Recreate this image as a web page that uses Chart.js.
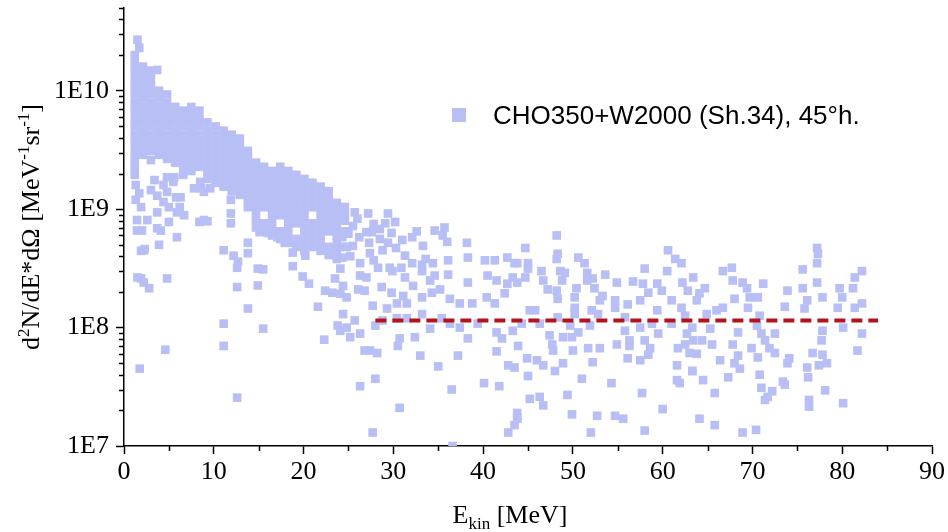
<!DOCTYPE html>
<html>
<head>
<meta charset="utf-8">
<script src="https://cdn.jsdelivr.net/npm/chart.js@4/dist/chart.umd.min.js"></script>
<style>
  html, body { margin: 0; padding: 0; background: #ffffff; }
  #wrap { width: 948px; height: 532px; }
  canvas { display: block; }
</style>
</head>
<body>
<div id="wrap"><canvas id="chart" width="948" height="532"></canvas></div>
<script>
// ---- measured spectrum: d2N/dE dOmega versus kinetic energy ----
const seriesLabel = 'CHO350+W2000 (Sh.34), 45°h.';

// dense low-energy part, grouped by energy column [E (MeV), [yields]]
const coreColumns = [
  [1.2,  [2.0e10, 1.72e10, 1.48e10, 1.26e10, 1.08e10, 9.3e9, 7.9e9, 6.8e9, 5.8e9, 5.0e9, 4.25e9, 3.65e9, 3.1e9, 2.66e9, 2.28e9, 1.95e9]],
  [2.1,  [1.6e10, 1.37e10, 1.17e10, 1.0e10, 8.6e9, 7.3e9, 6.3e9, 5.4e9, 4.6e9, 3.95e9, 3.37e9, 2.88e9]],
  [3.0,  [1.48e10, 1.26e10, 1.08e10, 9.3e9, 7.9e9, 6.8e9, 5.8e9, 5.0e9, 4.25e9, 3.65e9, 3.1e9]],
  [3.9,  [1.0e10, 8.6e9, 7.3e9, 6.3e9, 5.4e9, 4.6e9, 3.95e9, 3.37e9, 2.88e9]],
  [4.8,  [9.3e9, 7.9e9, 6.8e9, 5.8e9, 5.0e9, 4.25e9, 3.65e9, 3.1e9, 2.66e9]],
  [5.7,  [7.3e9, 6.3e9, 5.4e9, 4.6e9, 3.95e9, 3.37e9, 2.88e9, 2.47e9]],
  [6.6,  [6.8e9, 5.8e9, 5.0e9, 4.25e9, 3.65e9, 3.1e9, 2.66e9, 2.28e9, 1.95e9]],
  [7.5,  [7.3e9, 6.3e9, 5.4e9, 4.6e9, 3.95e9, 3.37e9, 2.88e9, 2.47e9, 2.1e9]],
  [8.4,  [6.8e9, 5.8e9, 5.0e9, 4.25e9, 3.65e9, 3.1e9, 2.66e9, 2.28e9]],
  [9.3,  [5.4e9, 4.6e9, 3.95e9, 3.37e9, 2.88e9, 2.47e9, 2.1e9, 1.8e9]],
  [10.2, [5.0e9, 4.25e9, 3.65e9, 3.1e9, 2.66e9, 2.28e9, 1.95e9, 1.67e9]],
  [11.1, [4.6e9, 3.95e9, 3.37e9, 2.88e9, 2.47e9, 2.1e9, 1.8e9, 1.55e9]],
  [12.0, [4.25e9, 3.65e9, 3.1e9, 2.66e9, 2.28e9, 1.95e9, 1.67e9, 1.42e9]],
  [12.9, [3.95e9, 3.37e9, 2.88e9, 2.47e9, 2.1e9, 1.8e9, 1.55e9, 1.32e9]],
  [13.8, [3.1e9, 2.66e9, 2.28e9, 1.95e9, 1.67e9, 1.42e9, 1.22e9, 1.04e9]],
  [14.7, [2.47e9, 2.1e9, 1.8e9, 1.55e9, 1.32e9, 1.13e9, 9.6e8, 8.2e8, 7.0e8]],
  [15.6, [2.28e9, 1.95e9, 1.67e9, 1.42e9, 1.22e9, 1.04e9, 7.6e8, 6.5e8]],
  [16.5, [2.1e9, 1.8e9, 1.55e9, 1.32e9, 1.13e9, 9.6e8, 8.2e8, 7.0e8, 6.0e8]],
  [17.4, [2.28e9, 1.95e9, 1.67e9, 1.42e9, 1.22e9, 1.04e9, 8.9e8, 6.5e8, 5.6e8]],
  [18.3, [2.1e9, 1.8e9, 1.55e9, 1.32e9, 1.13e9, 9.6e8, 8.2e8, 7.0e8, 6.0e8, 5.2e8]],
  [19.2, [1.95e9, 1.67e9, 1.42e9, 1.22e9, 1.04e9, 8.9e8, 7.6e8, 5.6e8, 4.8e8]],
  [20.1, [1.8e9, 1.55e9, 1.32e9, 1.13e9, 9.6e8, 8.2e8, 7.0e8, 6.0e8, 5.2e8, 4.45e8]],
  [21.0, [1.67e9, 1.42e9, 1.22e9, 1.04e9, 7.6e8, 6.5e8, 5.6e8, 4.8e8]],
  [21.9, [1.55e9, 1.32e9, 1.13e9, 9.6e8, 8.2e8, 7.0e8, 6.0e8, 5.2e8, 4.45e8]],
  [22.8, [1.42e9, 1.22e9, 1.04e9, 8.9e8, 7.6e8, 6.5e8, 4.8e8, 4.1e8]],
  [23.7, [1.13e9, 9.6e8, 8.2e8, 7.0e8, 6.0e8, 5.2e8, 4.45e8, 3.8e8]],
  [24.6, [1.04e9, 8.9e8, 6.5e8, 4.8e8]]
];

// individual points, [E (MeV), yield]
const lowEnergyPoints = [
  [1.5,2.7e10],[1.7,2.3e10],[3.7,1.5e10],
  [1.3,1.6e9],[1.3,1.2e9],[1.7,1.36e9],[1.9,1.04e9],[1.45,8.1e8],[1.45,6.6e8],[2.0,6.6e8],
  [2.6,8.1e8],[2.2,4.5e8],[1.9,4.45e8],[2.3,4.6e8],
  [3.0,2.6e9],[3.4,1.76e9],[3.0,1.45e9],[3.7,1.3e9],[4.4,1.6e9],[4.8,1.86e9],[5.5,1.7e9],
  [5.6,1.86e9],[4.8,1.4e9],[4.4,1.15e9],[5.0,1.04e9],[5.8,1.26e9],[6.3,1.26e9],
  [6.2,1.04e9],[3.7,9.4e8],[5.9,9.4e8],[6.7,8.9e8],[5.0,7.8e8],[3.7,6.9e8],[4.1,6.6e8],[5.9,5.8e8],
  [3.9,5.0e8],[7.8,1.5e9],[8.6,1.5e9],[8.5,1.7e9],[8.9,1.4e9],[9.6,1.5e9],[8.4,7.8e8],
  [8.9,8.1e8],[9.3,7.9e8],[11.1,4.5e8],[11.9,1.2e9],[11.9,9.2e8],[11.9,7.6e8],
  [1.5,2.65e8],[1.9,2.6e8],[2.2,2.4e8],[2.8,2.15e8],[4.8,2.6e8],[11.1,1.08e8],[11.1,7.0e7],
  [4.6,6.5e7],[1.75,4.5e7],[12.2,4.05e8],[12.6,2.2e8],[12.6,2.56e7],[12.6,3.2e8],[13.8,1.45e8],
  [14.9,2.27e8],[14.9,3.15e8],[15.5,3.1e8],[15.5,9.8e7],[18.8,3.3e8],[19.9,2.7e8],[20.6,2.35e8],
  [21.6,1.5e8],[12.7,3.6e8],[13.8,5.2e8],[13.8,4.25e8],[22.4,2.05e8],[23.2,1.97e8],[24.1,1.93e8],
  [22.3,7.9e7],[23.8,1.04e8],[24.1,9.4e7],[24.1,3.15e8],[23.5,2.6e8],[24.4,1.3e8],[20.2,4.05e8],
  [18.8,4.3e8],[17.9,5.2e8],[17.1,5.8e8],[16.0,6.3e8],[15.1,6.4e8]
];

const midEnergyPoints = [
  [24.4,1.04e9],[25.7,9.4e8],[27.2,9.2e8],[29.4,9.2e8],[25.5,7.2e8],[27.0,6.4e8],[27.6,6.4e8],
  [29.1,7.6e8],[30.2,7.8e8],[24.3,5.8e8],[24.8,4.8e8],[25.5,4.9e8],[28.5,5.6e8],[29.4,5.2e8],
  [31.0,5.5e8],[32.1,5.8e8],[33.3,4.9e8],[34.6,6.6e8],[35.7,7.0e8],[35.5,6.0e8],[36.0,5.3e8],
  [38.2,5.2e8],[24.3,3.9e8],[25.2,4.0e8],[27.4,4.25e8],[28.8,4.5e8],[31.3,4.05e8],[32.1,3.5e8],
  [33.2,3.4e8],[34.4,3.5e8],[36.1,3.7e8],[38.3,3.9e8],[40.2,3.7e8],[41.3,3.7e8],[42.7,3.9e8],
  [43.5,3.5e8],[26.3,2.75e8],[27.0,2.65e8],[28.3,3.2e8],[29.6,3.2e8],[31.3,2.65e8],[33.2,3.0e8],
  [34.1,2.5e8],[34.6,2.75e8],[36.1,2.8e8],[38.3,2.4e8],[40.5,2.75e8],[41.5,2.5e8],[42.7,2.35e8],
  [43.3,2.65e8],[24.4,2.25e8],[24.8,1.8e8],[26.1,2.1e8],[26.8,2.05e8],[28.7,2.2e8],[29.8,1.97e8],
  [31.1,1.85e8],[32.2,2.25e8],[33.2,1.8e8],[34.3,1.97e8],[35.2,2.1e8],[36.3,1.75e8],[37.4,1.6e8],
  [38.8,1.6e8],[40.4,1.8e8],[41.3,1.6e8],[42.4,1.95e8],[27.7,1.53e8],[29.3,1.45e8],[30.4,1.6e8],
  [31.5,1.6e8],[33.2,1.3e8],[30.4,1.2e8],[25.7,1.15e8],[24.8,1.0e8],[28.0,1.04e8],[28.8,1.15e8],
  [31.5,1.2e8],[34.1,9.8e7],[35.4,1.2e8],[36.3,1.08e8],[37.4,1.0e8],[38.3,8.1e7],[39.4,1.08e8],
  [41.5,9.1e7],[42.1,8.1e7],[43.3,9.4e7],[25.2,8.3e7],[26.3,8.9e7],[26.8,6.4e7],[27.4,6.4e7],
  [28.2,6.1e7],[30.7,8.1e7],[30.5,7.0e7],[32.4,8.3e7],[33.0,5.8e7],[35.0,4.7e7],[37.2,5.8e7],
  [41.5,6.3e7],[42.8,4.8e7],[43.5,4.6e7],[28.0,3.7e7],[26.3,3.2e7],[36.5,3.0e7],[40.1,3.4e7],
  [41.8,3.2e7],[30.7,2.1e7],[27.7,1.3e7],[36.6,1.0e7],[42.8,1.3e7],[43.8,1.75e7],[43.5,1.5e7],
  [44.7,4.7e8],[24.6,8.0e8],[26.0,8.3e8],[27.8,7.5e8],[28.5,6.8e8],[26.2,5.8e8],[25.0,6.2e8],
  [27.3,5.2e8],[29.8,6.3e8],[30.3,4.7e8],[26.3,3.5e8],[27.8,3.7e8],[29.9,3.0e8],[32.6,6.5e8],
  [33.6,3.8e8],[30.9,3.2e8]
];

const highEnergyPoints = [
  [48.2,6.0e8],[43.8,3.5e8],[45.0,3.5e8],[45.0,3.15e8],[48.3,4.2e8],[48.2,3.8e8],[50.6,3.9e8],
  [51.3,3.5e8],[46.5,3.0e8],[48.6,3.0e8],[49.1,2.9e8],[51.6,2.9e8],[53.6,2.8e8],[58.0,3.15e8],
  [60.6,4.5e8],[61.4,3.8e8],[62.1,3.5e8],[60.5,3.0e8],[46.7,2.5e8],[47.2,2.1e8],[48.2,2.05e8],
  [48.8,2.5e8],[50.4,2.15e8],[51.6,2.5e8],[52.2,2.6e8],[52.4,2.15e8],[53.3,1.85e8],[54.9,2.4e8],
  [56.7,2.45e8],[57.8,2.35e8],[58.4,1.97e8],[59.4,2.35e8],[59.9,2.05e8],[62.2,2.4e8],[62.8,2.05e8],
  [44.7,2.65e8],[43.8,2.4e8],[48.3,1.75e8],[50.2,1.8e8],[53.0,1.7e8],[54.7,1.7e8],[54.7,1.47e8],
  [56.1,1.57e8],[57.5,1.7e8],[61.0,1.7e8],[62.1,1.47e8],[50.2,1.47e8],[45.8,1.4e8],[45.2,1.4e8],
  [52.1,1.4e8],[50.2,1.3e8],[52.8,1.3e8],[48.3,1.22e8],[55.8,1.22e8],[59.4,1.4e8],[62.5,1.26e8],
  [44.3,1.08e8],[46.3,1.08e8],[49.7,1.04e8],[51.9,1.04e8],[57.5,1.0e8],[58.8,1.08e8],[61.0,1.08e8],
  [47.4,8.6e7],[48.9,8.3e7],[49.9,8.3e7],[50.6,9.1e7],[55.8,9.4e7],[59.5,8.9e7],[62.7,8.9e7],
  [43.9,7.0e7],[47.7,7.2e7],[47.8,6.4e7],[50.0,6.4e7],[51.7,6.7e7],[53.0,6.7e7],[54.9,7.2e7],
  [56.3,7.8e7],[56.3,7.0e7],[58.0,7.8e7],[58.6,6.7e7],[61.7,6.7e7],[62.5,7.2e7],[63.0,6.1e7],
  [44.9,5.5e7],[46.0,5.3e7],[46.7,4.8e7],[48.0,4.3e7],[48.9,5.0e7],[52.2,5.1e7],[56.1,5.5e7],
  [57.5,5.3e7],[58.4,5.9e7],[61.6,4.8e7],[63.3,4.3e7],[45.0,3.9e7],[51.0,3.7e7],[61.6,3.6e7],
  [61.9,3.4e7],[54.3,3.4e7],[49.4,2.7e7],[57.7,2.8e7],[45.2,2.5e7],[46.3,2.6e7],[46.7,2.2e7],
  [43.8,1.9e7],[43.8,1.7e7],[49.9,1.85e7],[52.7,1.8e7],[54.7,1.8e7],[55.6,1.7e7],[60.0,2.05e7],
  [52.0,1.3e7],[58.0,1.35e7],
  [66.7,3.0e8],[67.7,3.2e8],[67.8,2.5e8],[77.2,4.7e8],[77.3,4.2e8],[77.2,3.5e8],[75.6,3.1e8],
  [82.2,3.0e8],[81.4,2.65e8],[63.4,2.65e8],[64.7,2.15e8],[63.8,1.7e8],[64.1,1.95e8],[68.9,2.4e8],
  [69.4,2.15e8],[71.2,2.35e8],[68.0,1.75e8],[69.7,1.8e8],[70.6,1.8e8],[69.5,1.47e8],[73.9,2.05e8],
  [73.6,1.5e8],[75.6,2.15e8],[77.2,2.4e8],[77.8,1.8e8],[76.1,1.7e8],[75.8,1.45e8],[79.7,2.15e8],
  [80.0,1.8e8],[81.2,2.15e8],[79.5,1.47e8],[81.4,1.47e8],[82.2,1.6e8],[66.0,1.4e8],[66.7,1.47e8],
  [64.9,1.3e8],[70.8,1.26e8],[63.3,1.0e8],[65.3,9.8e7],[70.5,1.04e8],[68.4,9.1e7],[71.0,8.9e7],
  [72.5,8.9e7],[77.8,9.4e7],[80.1,1.0e8],[82.2,8.9e7],[63.4,7.8e7],[64.4,7.8e7],[65.5,7.2e7],
  [67.8,7.2e7],[69.9,6.7e7],[71.4,7.8e7],[71.9,6.7e7],[72.5,6.1e7],[77.7,7.8e7],[81.7,6.4e7],
  [76.7,6.1e7],[63.8,6.0e7],[68.4,5.8e7],[70.6,5.6e7],[77.8,5.9e7],[66.4,5.3e7],[68.0,5.0e7],
  [68.6,4.5e7],[73.9,5.0e7],[74.1,5.5e7],[76.1,4.6e7],[77.4,4.8e7],[78.3,5.0e7],[63.3,4.3e7],
  [67.3,3.8e7],[64.5,3.6e7],[70.8,4.0e7],[73.4,3.5e7],[73.6,3.3e7],[76.2,3.8e7],[71.0,3.1e7],
  [65.8,2.8e7],[72.2,2.9e7],[71.7,2.6e7],[71.4,2.45e7],[78.1,2.95e7],[76.3,2.45e7],[76.3,2.15e7],
  [80.1,2.3e7],[64.1,1.7e7],[65.8,1.5e7],[68.9,1.3e7],[70.4,1.37e7]
];

// reference level drawn as a dashed line
const levelEnergy = [28, 84];
const levelYield = [1.15e8, 1.15e8];

// axes
const xMin = 0, xMax = 90;
const xTickValues = [0, 10, 20, 30, 40, 50, 60, 70, 80, 90];
const xTickLabels = ['0', '10', '20', '30', '40', '50', '60', '70', '80', '90'];
const xMinorTicks = [5, 15, 25, 35, 45, 55, 65, 75, 85];
const yMin = 1e7, yMax = 5e10;
const yTickValues = [1e7, 1e8, 1e9, 1e10];
const yTickLabels = ['1E7', '1E8', '1E9', '1E10'];

const POINT_COLOR = '#b8bff4';
const LINE_COLOR = '#b3141c';
const SERIF = '"Liberation Serif", "Times New Roman", serif';
const SANS = '"Liberation Sans", Arial, sans-serif';

const scatterData = [
  ...coreColumns.flatMap(([e, ys]) => ys.map(v => ({ x: e, y: v }))),
  ...lowEnergyPoints.map(([e, v]) => ({ x: e, y: v })),
  ...midEnergyPoints.map(([e, v]) => ({ x: e, y: v })),
  ...highEnergyPoints.map(([e, v]) => ({ x: e, y: v }))
];
const levelData = levelEnergy.map((e, i) => ({ x: e, y: levelYield[i] }));

// text with super/subscripts, drawn centred on (0,0) of the current transform
function drawRich(ctx, parts, size) {
  const small = Math.round(size * 0.65);
  const fontFor = p => `${p.sup || p.sub ? small : size}px ${SERIF}`;
  let total = 0;
  parts.forEach(p => { ctx.font = fontFor(p); total += ctx.measureText(p.t).width; });
  let cx = -total / 2;
  parts.forEach(p => {
    ctx.font = fontFor(p);
    const dy = p.sup ? -size * 0.38 : (p.sub ? size * 0.22 : 0);
    ctx.fillText(p.t, cx, dy);
    cx += ctx.measureText(p.t).width;
  });
}

const decorations = {
  id: 'decorations',
  afterDraw(chart) {
    const { ctx, scales: { x, y } } = chart;
    ctx.save();
    ctx.strokeStyle = '#000';
    ctx.lineWidth = 1.5;
    // minor ticks on the energy axis
    ctx.beginPath();
    xMinorTicks.forEach(v => {
      const px = Math.round(x.getPixelForValue(v)) + 0.5;
      ctx.moveTo(px, y.bottom);
      ctx.lineTo(px, y.bottom + 5);
    });
    // minor ticks on the logarithmic axis
    for (let dec = yMin; dec < yMax; dec *= 10) {
      for (let m = 2; m <= 9; m++) {
        const v = m * dec;
        if (v > yMax * 1.0001) break;
        const py = Math.round(y.getPixelForValue(v)) + 0.5;
        ctx.moveTo(x.left, py);
        ctx.lineTo(x.left - 5, py);
      }
    }
    ctx.stroke();

    ctx.fillStyle = '#000';
    ctx.textBaseline = 'alphabetic';
    ctx.textAlign = 'left';
    // energy axis title
    ctx.save();
    ctx.translate(510, 523);
    drawRich(ctx, [{ t: 'E' }, { t: 'kin', sub: true }, { t: ' [MeV]' }], 26);
    ctx.restore();
    // yield axis title
    ctx.save();
    ctx.translate(39, 227);
    ctx.rotate(-Math.PI / 2);
    drawRich(ctx, [
      { t: 'd' }, { t: '2', sup: true }, { t: 'N/dE*dΩ [MeV' }, { t: '-1', sup: true },
      { t: 'sr' }, { t: '-1', sup: true }, { t: ']' }
    ], 26);
    ctx.restore();

    // legend entry
    const ds = chart.data.datasets[1];
    ctx.fillStyle = ds.backgroundColor;
    ctx.fillRect(452, 108, 14, 14);
    ctx.fillStyle = '#000';
    ctx.font = `26px ${SANS}`;
    ctx.fillText(ds.label, 493, 124);
    ctx.restore();
  }
};

new Chart(document.getElementById('chart'), {
  type: 'scatter',
  data: {
    datasets: [
      {
        type: 'line',
        label: 'level',
        data: levelData,
        borderColor: LINE_COLOR,
        borderWidth: 4,
        borderDash: [11, 6],
        pointRadius: 0,
        fill: false,
        order: 0
      },
      {
        label: seriesLabel,
        data: scatterData,
        backgroundColor: POINT_COLOR,
        borderWidth: 0,
        pointStyle: 'rect',
        pointRadius: 6.1,
        order: 1
      }
    ]
  },
  plugins: [decorations],
  options: {
    responsive: false,
    animation: false,
    events: [],
    layout: { padding: { top: 8, right: 16, left: 0, bottom: 0 } },
    plugins: { legend: { display: false }, tooltip: { enabled: false }, title: { display: false } },
    scales: {
      x: {
        type: 'linear',
        min: xMin, max: xMax,
        afterBuildTicks: s => { s.ticks = xTickValues.map(v => ({ value: v })); },
        afterFit: s => { s.height = 86; s.paddingLeft = 0; s.paddingRight = 0; },
        ticks: {
          callback: (v, i) => xTickLabels[i],
          autoSkip: false, maxRotation: 0,
          font: { family: SERIF, size: 26 }, color: '#000', padding: 3
        },
        grid: { drawOnChartArea: false, drawTicks: true, tickLength: 8, tickColor: '#000', tickWidth: 1.5 },
        border: { display: true, color: '#000', width: 1.5 }
      },
      y: {
        type: 'logarithmic',
        min: yMin, max: yMax,
        afterBuildTicks: s => { s.ticks = yTickValues.map(v => ({ value: v, major: true })); },
        afterFit: s => { s.width = 124; s.paddingTop = 0; s.paddingBottom = 0; },
        ticks: {
          callback: (v, i) => yTickLabels[i],
          autoSkip: false,
          font: { family: SERIF, size: 26 }, color: '#000', padding: 7
        },
        grid: { drawOnChartArea: false, drawTicks: true, tickLength: 8, tickColor: '#000', tickWidth: 1.5 },
        border: { display: true, color: '#000', width: 1.5 }
      }
    }
  }
});
</script>
</body>
</html>
